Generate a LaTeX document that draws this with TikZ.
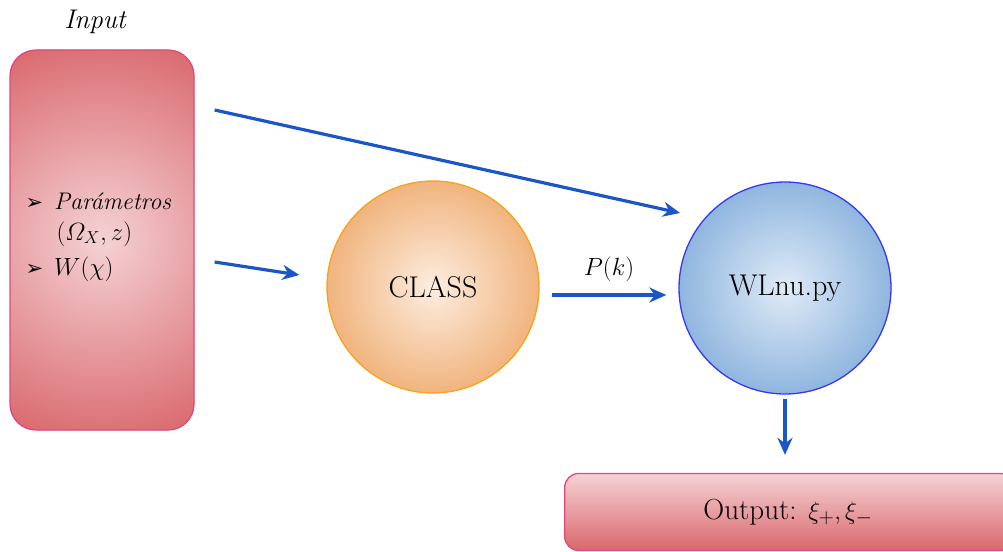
\documentclass[tikz,border=0pt]{standalone}
\usepackage{fontspec}
\newfontfamily\symfont{DejaVu Sans}
\usetikzlibrary{arrows.meta,calc}
\definecolor{boxout}{HTML}{D9686D}
\definecolor{boxin}{HTML}{F5D2D5}
\definecolor{boxline}{HTML}{E2487A}
\definecolor{orout}{HTML}{F0B27A}
\definecolor{orin}{HTML}{FDEDE0}
\definecolor{orline}{HTML}{F6A31E}
\definecolor{blout}{HTML}{8DB4DE}
\definecolor{blin}{HTML}{E0EBF7}
\definecolor{blline}{HTML}{3838F2}
\definecolor{arr}{HTML}{1A56C8}
\pgfdeclareradialshading{boxrad}{\pgfpoint{0bp}{0bp}}{color(0bp)=(boxin); color(25bp)=(boxout); color(50bp)=(boxout)}
\pgfdeclareradialshading{orrad}{\pgfpoint{0bp}{0bp}}{color(0bp)=(orin); color(25bp)=(orout); color(50bp)=(orout)}
\pgfdeclareradialshading{blrad}{\pgfpoint{0bp}{0bp}}{color(0bp)=(blin); color(25bp)=(blout); color(50bp)=(blout)}
\tikzset{
  inbox/.style={draw=boxline, line width=1.3pt, rounded corners=26pt, fill=boxout,
    path picture={\shade[shading=boxrad] (path picture bounding box.center) circle (210pt);},
    minimum width=184pt, minimum height=380pt, inner sep=0pt},
  outbox/.style={draw=boxline, line width=1.3pt, rounded corners=14pt, top color=boxin, bottom color=boxout, minimum width=450pt, minimum height=77pt, inner sep=0pt},
  orcirc/.style={circle, draw=orline, line width=1.3pt, fill=orout,
    path picture={\shade[shading=orrad] (path picture bounding box.center) circle (110pt);},
    minimum size=212pt, inner sep=0pt},
  blcirc/.style={circle, draw=blline, line width=1.3pt, fill=blout,
    path picture={\shade[shading=blrad] (path picture bounding box.center) circle (110pt);},
    minimum size=212pt, inner sep=0pt},
  flow/.style={draw=arr, line width=3.2pt, -{Stealth[length=17pt,width=15pt]}},
  lbl/.style={font=\fontsize{30}{35}\selectfont}
}
\begin{document}
\begin{tikzpicture}[x=1pt,y=-1pt]
\clip (0,0) rectangle (1003,551);
\useasboundingbox (0,0) rectangle (1003,551);
\node[font=\fontsize{27}{32}\selectfont\itshape] (title) at (95,22) {Input};
\node[inbox] (in) at (102,240) {};
\node[font=\fontsize{24}{29}\selectfont\itshape, align=left, anchor=west] (intext) at (22,237)
  {{\symfont\fontsize{21}{25}\selectfont ➢}\hspace{11pt}Parámetros\\[2pt]
   \hspace{31pt}$(\mathnormal{\Omega}_{X}, z)$\\[6pt]
   {\symfont\fontsize{21}{25}\selectfont ➢}\hspace{11pt}$W(\chi)$};
\node[orcirc, lbl] (class) at (433,287) {CLASS};
\node[blcirc, lbl] (wl) at (785,288) {WLnu.py};
\node[outbox, anchor=west] (out) at (564,512) {};
\node[font=\fontsize{29}{34}\selectfont] (outtext) at (788,512) {Output: $\xi_{+}, \xi_{-}$};
\coordinate (a1s) at ($(in.east)+(20,-130)$);
\coordinate (a1e) at (680,213);
\coordinate (a2s) at ($(in.east)+(20,22)$);
\coordinate (a2e) at ($(class.west)+(-27,-12)$);
\coordinate (a3s) at ($(class.east)+(12,8)$);
\coordinate (a3e) at ($(wl.west)+(-12,7)$);
\coordinate (a4s) at ($(wl.south)+(0,4)$);
\coordinate (a4e) at ($(out.north -| wl.south)+(0,-18)$);
\draw[flow] (a1s) -- (a1e);
\draw[flow] (a2s) -- (a2e);
\draw[flow] (a3s) -- node[above=8pt, font=\fontsize{23}{27}\selectfont] (pk) {$P(k)$} (a3e);
\draw[flow] (a4s) -- (a4e);
\end{tikzpicture}
\end{document}
